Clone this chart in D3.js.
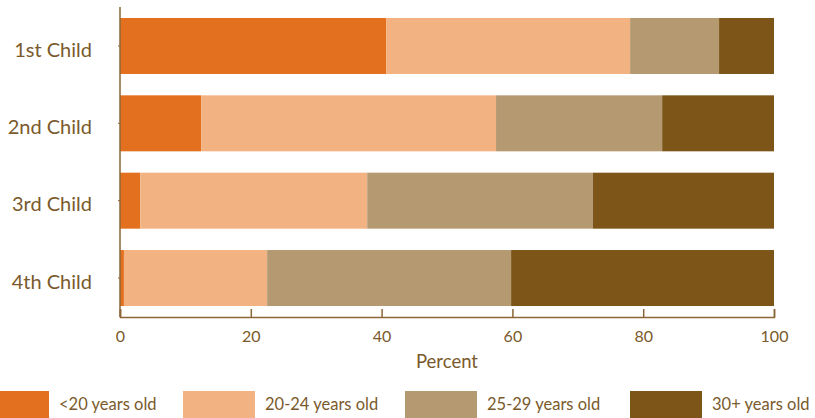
<!DOCTYPE html>
<html lang="en">
<head>
<meta charset="UTF-8">
<script src="https://d3js.org/d3.v7.min.js"></script>
<style>
  body { margin: 0; background: #fff; overflow: hidden; }
  svg text { font-family: Lato, "Noto Sans", sans-serif; fill: #7a5a2c; }
</style>
</head>
<body>
<div id="chart"></div>
<script>
// data
const categories = ["1st Child", "2nd Child", "3rd Child", "4th Child"];
const seriesNames = ["<20 years old", "20-24 years old", "25-29 years old", "30+ years old"];
const under20 = [40.7, 12.4, 3.1, 0.6];
const age20to24 = [37.3, 45.1, 34.7, 21.9];
const age25to29 = [13.6, 25.4, 34.5, 37.3];
const age30plus = [8.4, 17.1, 27.7, 40.2];
const xTicks = [0, 20, 40, 60, 80, 100];

const colors = ["#e3701e", "#f3b281", "#b59971", "#7d5519"];
const axisColor = "#8b6636";
const textFont = "Lato, 'Noto Sans', sans-serif";

const width = 815, height = 418;
const svg = d3.select("#chart").append("svg")
  .attr("width", width).attr("height", height);

const rows = categories.map((c, i) => ({
  cat: c, s0: under20[i], s1: age20to24[i], s2: age25to29[i], s3: age30plus[i]
}));
const keys = ["s0", "s1", "s2", "s3"];
const stacked = d3.stack().keys(keys)(rows);

const x = d3.scaleLinear().domain([0, 100]).range([120, 774]);
const y = d3.scaleBand().domain(categories).range([7, 317])
  .paddingInner(0.276).paddingOuter(0.142);

// bars
svg.append("g").selectAll("g")
  .data(stacked).join("g")
  .attr("fill", (d, i) => colors[i])
  .selectAll("rect")
  .data(d => d).join("rect")
  .attr("x", d => x(d[0]))
  .attr("width", d => x(d[1]) - x(d[0]))
  .attr("y", d => y(d.data.cat))
  .attr("height", y.bandwidth());

// x axis, ticks pointing up
const xAxis = svg.append("g")
  .attr("transform", "translate(0,317)")
  .call(d3.axisBottom(x).tickValues(xTicks).tickSize(-8).tickPadding(14));
xAxis.select(".domain").attr("stroke", axisColor).attr("stroke-width", 1.5);
xAxis.selectAll(".tick line").attr("stroke", axisColor).attr("stroke-width", 1.5);
xAxis.selectAll(".tick text").attr("font-size", "16px").attr("fill", "#7a5a2c")
  .attr("font-family", textFont);

svg.append("text")
  .attr("x", (x(0) + x(100)) / 2)
  .attr("y", 368)
  .attr("text-anchor", "middle")
  .attr("font-size", "18.5px")
  .text("Percent");

// y axis
const yAxis = svg.append("g")
  .attr("transform", "translate(120,0)")
  .call(d3.axisLeft(y).tickSize(2).tickPadding(26));
yAxis.select(".domain").attr("stroke", axisColor).attr("stroke-width", 1.5)
  .attr("d", "M0,7V317");
yAxis.selectAll(".tick line").attr("stroke", axisColor);
yAxis.selectAll(".tick text").attr("font-size", "20px").attr("fill", "#7a5a2c")
  .attr("font-family", textFont).attr("dy", "0.53em");

// legend (first swatch runs off the left edge)
const legendX = [-23, 183, 405, 630];
const legend = svg.append("g").selectAll("g")
  .data(seriesNames).join("g")
  .attr("transform", (d, i) => `translate(${legendX[i]},391)`);
legend.append("rect")
  .attr("width", 72).attr("height", 27)
  .attr("fill", (d, i) => colors[i]);
legend.append("text")
  .attr("x", 82)
  .attr("y", 13.5)
  .attr("dy", "0.35em")
  .attr("font-size", "16.5px")
  .text(d => d);
</script>
</body>
</html>
